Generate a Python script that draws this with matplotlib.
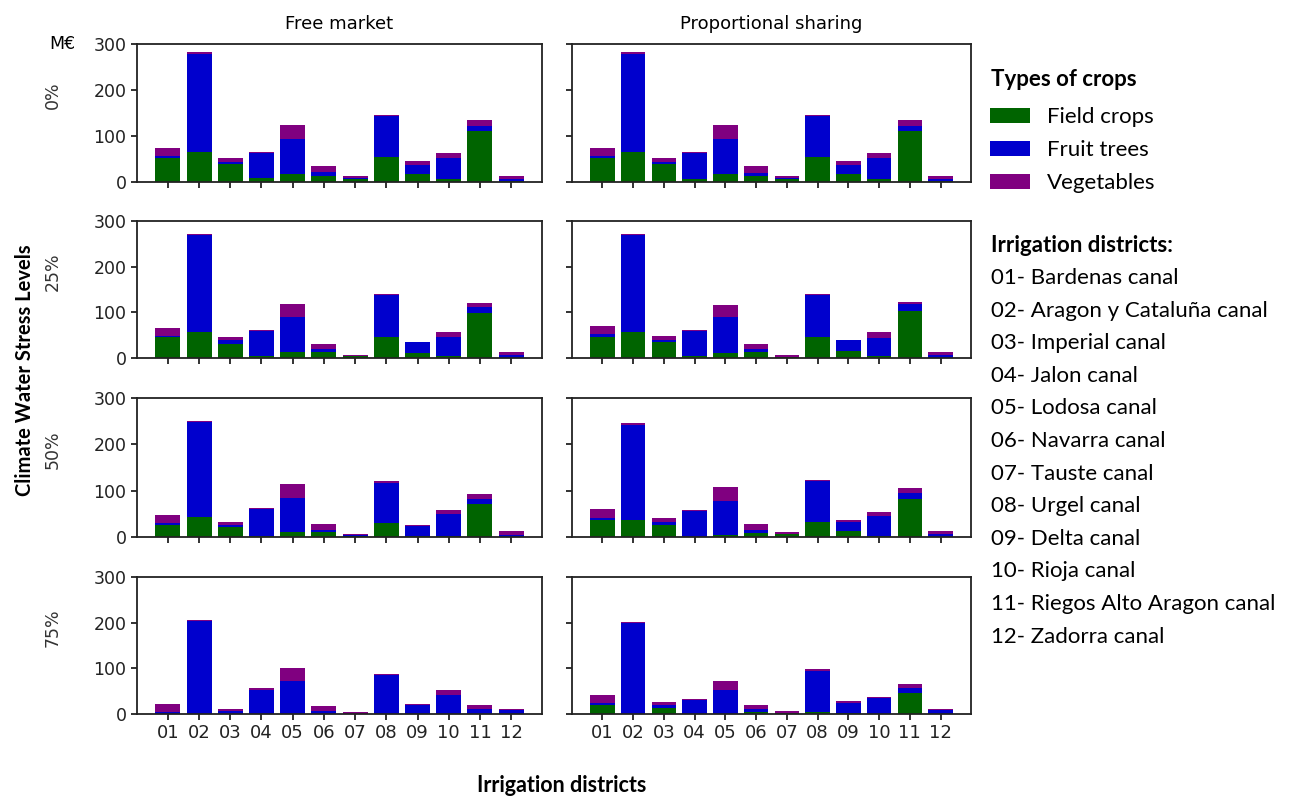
import matplotlib
matplotlib.use('Agg')
import matplotlib.pyplot as plt
from matplotlib.patches import Patch
import numpy as np

districts = ['01', '02', '03', '04', '05', '06', '07', '08', '09', '10', '11', '12']
district_names = ['Bardenas canal', 'Aragon y Cataluña canal', 'Imperial canal',
                  'Jalon canal', 'Lodosa canal', 'Navarra canal', 'Tauste canal',
                  'Urgel canal', 'Delta canal', 'Rioja canal',
                  'Riegos Alto Aragon canal', 'Zadorra canal']
stress_levels = ['0%', '25%', '50%', '75%']
schemes = ['Free market', 'Proportional sharing']
crop_types = ['Field crops', 'Fruit trees', 'Vegetables']
crop_colors = ['#006400', '#0000cd', '#800080']

# values in M€ per district (stacked: field, fruit, vegetables)
# free market
fm_field_0 = [52, 65, 39, 8, 17, 14, 7, 55, 18, 7, 110, 2]
fm_fruit_0 = [4, 213, 5, 55, 76, 8, 1, 88, 18, 46, 12, 4]
fm_veg_0 = [17, 4, 8, 2.5, 31, 13, 4, 2, 9, 9, 12, 8]
fm_field_25 = [45, 58, 31, 4, 14, 14, 4, 46, 10, 4, 99, 1]
fm_fruit_25 = [4, 211, 8, 56, 76, 6, 0.5, 91, 24, 42, 13, 6]
fm_veg_25 = [17, 3, 6, 2, 29, 11, 2.5, 3, 1, 11, 8, 6]
fm_field_50 = [26, 43, 21, 3, 10, 10, 3, 30, 2, 3, 71, 1]
fm_fruit_50 = [4, 205, 4, 57, 75, 6, 0.5, 86, 22, 46, 10, 4]
fm_veg_50 = [17, 3, 8, 2, 30, 11, 3, 4, 1, 9, 11, 8]
fm_field_75 = [0, 0, 0, 0, 0, 0, 0, 0, 0, 0, 0, 0]
fm_fruit_75 = [4, 204, 6, 53, 73, 7, 1, 85, 19, 41, 10, 8]
fm_veg_75 = [17, 2, 5, 3, 27, 10, 3, 2, 2, 12, 10, 2]

# proportional sharing
ps_field_0 = [52, 65, 39, 7, 17, 14, 7, 55, 18, 7, 110, 2]
ps_fruit_0 = [4, 213, 5, 56, 76, 6, 1, 88, 18, 46, 12, 4]
ps_veg_0 = [17, 4, 8, 2, 31, 15, 4, 2, 9, 9, 12, 8]
ps_field_25 = [45, 58, 35, 4, 10, 14, 2, 46, 16, 5, 103, 1]
ps_fruit_25 = [7, 211, 4, 56, 80, 6, 0.5, 91, 23, 39, 15, 6]
ps_veg_25 = [17, 3, 9, 2, 26, 11, 4.5, 3, 1, 13, 5, 6]
ps_field_50 = [37, 37, 26, 1, 4, 9, 6, 33, 14, 3, 82, 1]
ps_fruit_50 = [5, 205, 7, 55, 73, 6, 1, 88, 19, 42, 13, 5]
ps_veg_50 = [19, 3, 8, 2, 31, 12, 3, 3, 4, 10, 11, 7]
ps_field_75 = [20, 1, 14, 0, 0, 4, 2, 5, 2, 0, 45, 0]
ps_fruit_75 = [4, 199, 5, 31, 52, 6, 0.5, 90, 23, 36, 13, 8]
ps_veg_75 = [17, 2, 8, 1, 21, 10, 3.5, 3, 3, 2, 8, 2]

panels = [
    [(fm_field_0, fm_fruit_0, fm_veg_0), (ps_field_0, ps_fruit_0, ps_veg_0)],
    [(fm_field_25, fm_fruit_25, fm_veg_25), (ps_field_25, ps_fruit_25, ps_veg_25)],
    [(fm_field_50, fm_fruit_50, fm_veg_50), (ps_field_50, ps_fruit_50, ps_veg_50)],
    [(fm_field_75, fm_fruit_75, fm_veg_75), (ps_field_75, ps_fruit_75, ps_veg_75)],
]

W, H = 1291, 800
fig = plt.figure(figsize=(W / 100, H / 100), dpi=100)

col_x = [(137, 542), (572, 971)]
row_y = [(44, 182), (221, 358), (398, 537), (577, 714)]

x = np.arange(len(districts))
for r, (top, bot) in enumerate(row_y):
    for c, (left, right) in enumerate(col_x):
        ax = fig.add_axes([left / W, 1 - bot / H, (right - left) / W, (bot - top) / H])
        bottom = np.zeros(len(districts))
        for vals, color in zip(panels[r][c], crop_colors):
            ax.bar(x, vals, 0.8, bottom=bottom, color=color)
            bottom += np.array(vals)
        ax.set_ylim(0, 300)
        ax.set_yticks([0, 100, 200, 300])
        ax.set_xticks(x)
        for s in ax.spines.values():
            s.set_linewidth(1.3)
            s.set_color('#222222')
        ax.tick_params(width=1.3, length=4, labelsize=12.5, colors='#222222')
        if r < 3:
            ax.set_xticklabels([])
        else:
            ax.set_xticklabels(districts, fontsize=13)
        if c == 1:
            ax.set_yticklabels([])
        else:
            ax.set_ylabel(stress_levels[r], fontsize=12.5, color='#333333')
            ax.yaxis.set_label_coords(-0.185, 0.63)
        if r == 0:
            ax.set_title(schemes[c], fontsize=13, pad=11)

fig.text(62 / W, 1 - 44 / H, 'M€', fontsize=12.5, ha='center', va='center')
fig.text(25 / W, 1 - 370 / H, 'Climate Water Stress Levels', rotation=90,
         fontsize=14.5, fontweight='bold', family='Lato', ha='center', va='center')
fig.text(562 / W, 1 - 786 / H, 'Irrigation districts', fontsize=15.5,
         fontweight='bold', family='Lato', ha='center', va='center')

# legend of crop types
fig.text(991 / W, 1 - 80 / H, 'Types of crops', fontsize=16, fontweight='bold',
         family='Lato', ha='left', va='center')
handles = [Patch(facecolor=col, label=lab) for col, lab in zip(crop_colors, crop_types)]
fig.legend(handles=handles, loc='upper left', bbox_to_anchor=(986 / W, 1 - 103 / H),
           frameon=False, prop={'family': 'Lato', 'size': 16},
           handlelength=1.8, handleheight=0.62, handletextpad=0.75, labelspacing=0.58,
           borderpad=0.2, borderaxespad=0.0)

# district list
fig.text(991 / W, 1 - 245 / H, 'Irrigation districts:', fontsize=16,
         fontweight='bold', family='Lato', ha='left', va='center')
for i, (code, name) in enumerate(zip(districts, district_names)):
    fig.text(991 / W, 1 - (278 + i * 32.6) / H, code + '- ' + name, fontsize=16,
             family='Lato', ha='left', va='center')

fig.savefig('out.png', dpi=100)
